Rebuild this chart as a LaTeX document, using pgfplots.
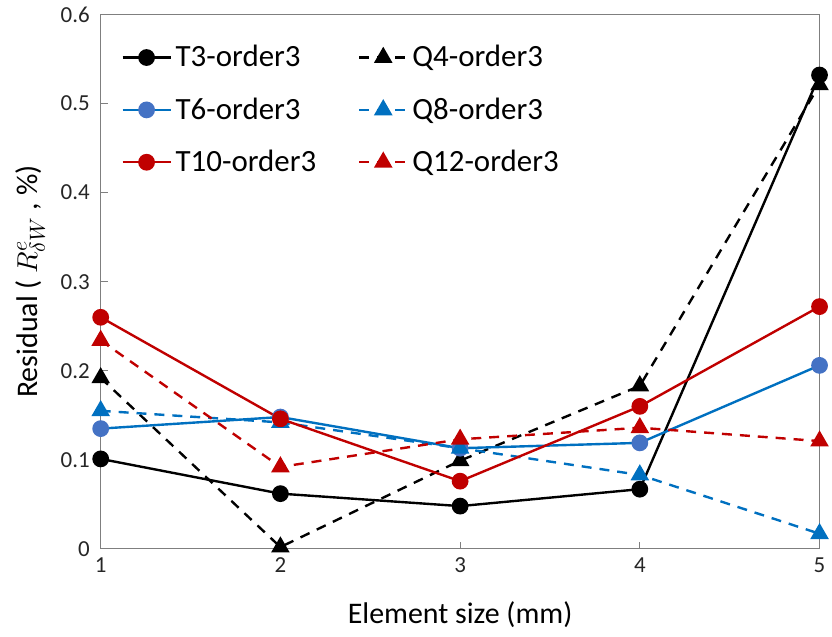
\documentclass[border=0pt]{standalone}
\usepackage{pgfplots}
\pgfplotsset{compat=1.18}
\usepackage{fontspec}
\setmainfont{Carlito}
\definecolor{cblue}{HTML}{0070C0}
\definecolor{cmblue}{HTML}{4472C4}
\definecolor{cred}{HTML}{C00000}
\definecolor{axgray}{HTML}{7F7F7F}
\begin{document}
\begin{tikzpicture}
\begin{axis}[
  scale only axis, width=360.5pt, height=268pt,
  xmin=1, xmax=5, ymin=0, ymax=0.6,
  xtick={1,2,3,4,5},
  ytick={0,0.1,0.2,0.3,0.4,0.5,0.6},
  yticklabels={0,0.1,0.2,0.3,0.4,0.5,0.6},
  tick pos=left, tick align=inside,
  major tick length=3.5pt,
  axis line style={axgray, line width=0.6pt},
  tick style={axgray, line width=0.6pt},
  /pgf/number format/assume math mode=true,
  tick label style={font=\fontsize{11.5}{13}\selectfont, text=black!85},
  xticklabel style={yshift=-1pt},
  yticklabel style={xshift=-2pt},
  xlabel={Element size (mm)},
  ylabel={Residual ( $R^{e}_{\delta W}$ , \%)},
  label style={font=\fontsize{15}{17}\selectfont},
  xlabel style={yshift=-7.5pt},
  ylabel style={yshift=1pt},
  legend columns=2,
  legend cell align=left,
  legend style={at={(0.02,0.958)}, anchor=north west, draw=none, fill=none,
    font=\fontsize{15.5}{17}\selectfont, row sep=10pt,
    /tikz/every even column/.append style={column sep=19pt}},
  legend image code/.code={\draw[mark repeat=2,mark phase=2] plot coordinates {(0pt,0pt)(12pt,0pt)(24pt,0pt)};},
  every axis plot/.append style={line width=1.2pt},
  clip=false,
]
\addplot[black, mark=*, mark size=3.6pt] coordinates {(1,0.101)(2,0.062)(3,0.048)(4,0.067)(5,0.532)};
\addlegendentry{T3-order3}
\addplot[black, dash pattern=on 5pt off 4pt, mark=triangle*, mark size=4.2pt, mark options={solid}] coordinates {(1,0.192)(2,0.002)(3,0.099)(4,0.183)(5,0.521)};
\addlegendentry{Q4-order3}
\addplot[cblue, mark=*, mark size=3.6pt, mark options={fill=cmblue, draw=cmblue}] coordinates {(1,0.135)(2,0.148)(3,0.113)(4,0.119)(5,0.206)};
\addlegendentry{T6-order3}
\addplot[cblue, dash pattern=on 5pt off 4pt, mark=triangle*, mark size=4.2pt, mark options={solid}] coordinates {(1,0.155)(2,0.142)(3,0.113)(4,0.083)(5,0.017)};
\addlegendentry{Q8-order3}
\addplot[cred, mark=*, mark size=3.6pt] coordinates {(1,0.260)(2,0.146)(3,0.076)(4,0.160)(5,0.272)};
\addlegendentry{T10-order3}
\addplot[cred, dash pattern=on 5pt off 4pt, mark=triangle*, mark size=4.2pt, mark options={solid}] coordinates {(1,0.234)(2,0.092)(3,0.123)(4,0.136)(5,0.121)};
\addlegendentry{Q12-order3}
\path (rel axis cs:0,0) ++(-50.5pt,-44pt) (rel axis cs:1,1) ++(5pt,7pt);
\end{axis}
\end{tikzpicture}
\end{document}
